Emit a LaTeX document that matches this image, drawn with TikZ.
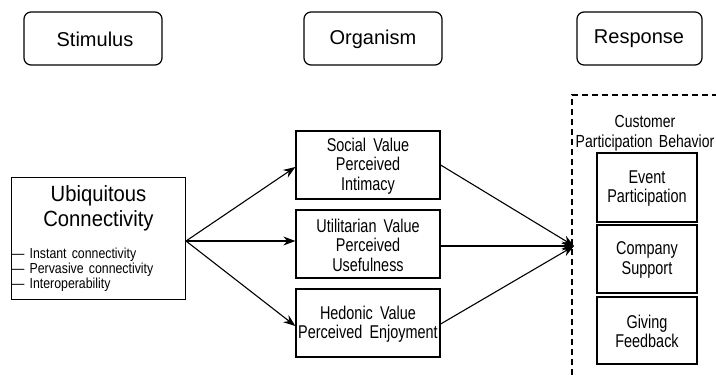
\documentclass[tikz,border=0pt]{standalone}
\usepackage{fontspec}
\setmainfont{Liberation Sans}
\newfontfamily\narfont[FakeStretch=0.78,WordSpace=1.8]{Liberation Sans}
\newfontfamily\bulfont[FakeStretch=0.85,WordSpace=1.5]{Liberation Sans}
\newfontfamily\cusfont[FakeStretch=0.8,WordSpace=1.6]{Liberation Sans}
\newfontfamily\ubifont[FakeStretch=0.92]{Liberation Sans}
\usetikzlibrary{arrows.meta}
\begin{document}
\begin{tikzpicture}[x=1pt,y=-1pt,
  hdr/.style={draw,line width=1.2pt,rounded corners=7pt},
  hdrtext/.style={font=\fontsize{20}{24}\selectfont},
  box/.style={draw,line width=1.3pt,inner sep=0pt},
  arr/.style={line width=1.1pt,-{Stealth[length=12pt,width=9pt]}},
  lbl/.style={font=\narfont\fontsize{18.5}{19.5}\selectfont,align=center,inner sep=1pt},
  bul/.style={anchor=west,font=\bulfont\fontsize{14.5}{15}\selectfont,inner sep=0pt}]
\useasboundingbox (0,0) rectangle (716,375);
\clip (0,0) rectangle (716,375);
% header boxes
\draw[hdr] (24,12) rectangle (162,65);
\node[hdrtext] (stim) at (95,39) {Stimulus};
\draw[hdr] (304,12) rectangle (442,65);
\node[hdrtext] (org) at (373,39) {Organism};
\draw[hdr] (577,12) rectangle (702,65);
\node[hdrtext] (resp) at (639,39) {Response};
% stimulus box
\node[box,minimum width=174pt,minimum height=122pt] (ubi) at (98.5,238.5) {};
\node[font=\ubifont\fontsize{22}{25}\selectfont,align=center] (ubit) at (98.5,208) {Ubiquitous\\Connectivity};
\node[bul] (b1) at (12,255) {— Instant connectivity};
\node[bul] (b2) at (12,270) {— Pervasive connectivity};
\node[bul] (b3) at (12,285) {— Interoperability};
% organism boxes
\node[box,minimum width=144pt,minimum height=68pt] (sv) at (368,165) {};
\node[lbl] (svt) at (368,166) {Social Value\\Perceived\\Intimacy};
\node[box,minimum width=144pt,minimum height=68pt] (uv) at (368,244) {};
\node[lbl] (uvt) at (368,245) {Utilitarian Value\\Perceived\\Usefulness};
\node[box,minimum width=144pt,minimum height=68pt] (hv) at (368,323) {};
\node[lbl] (hvt) at (368,324) {Hedonic Value\\Perceived Enjoyment};
% response group
\draw[line width=1.2pt,dash pattern=on 6pt off 4pt] (572,385) -- (572,95) -- (730,95);
\node[font=\cusfont\fontsize{17.5}{19.5}\selectfont,align=center] (cpb) at (645,133) {Customer\\Participation Behavior};
\node[box,minimum width=100pt,minimum height=69pt] (ep) at (647,187.5) {};
\node[lbl] (ept) at (647,188.5) {Event\\Participation};
\node[box,minimum width=100pt,minimum height=68pt] (cs) at (647,259) {};
\node[lbl] (cst) at (647,260) {Company\\Support};
\node[box,minimum width=100pt,minimum height=67pt] (gf) at (647,330.5) {};
\node[lbl] (gft) at (647,331.5) {Giving\\Feedback};
% connectors
\coordinate (src) at (186,241);
\coordinate (tgt) at (574,246);
\draw[arr] (src) -- (sv.west |- 0,167);
\draw[arr] (src) -- (uv.west |- 0,241);
\draw[arr] (src) -- (hv.west |- 0,326);
\draw[arr] (sv.east |- 0,165) -- (tgt);
\draw[arr] (uv.east |- 0,246) -- (tgt);
\draw[arr] (hv.east |- 0,324) -- (tgt);
\end{tikzpicture}
\end{document}
